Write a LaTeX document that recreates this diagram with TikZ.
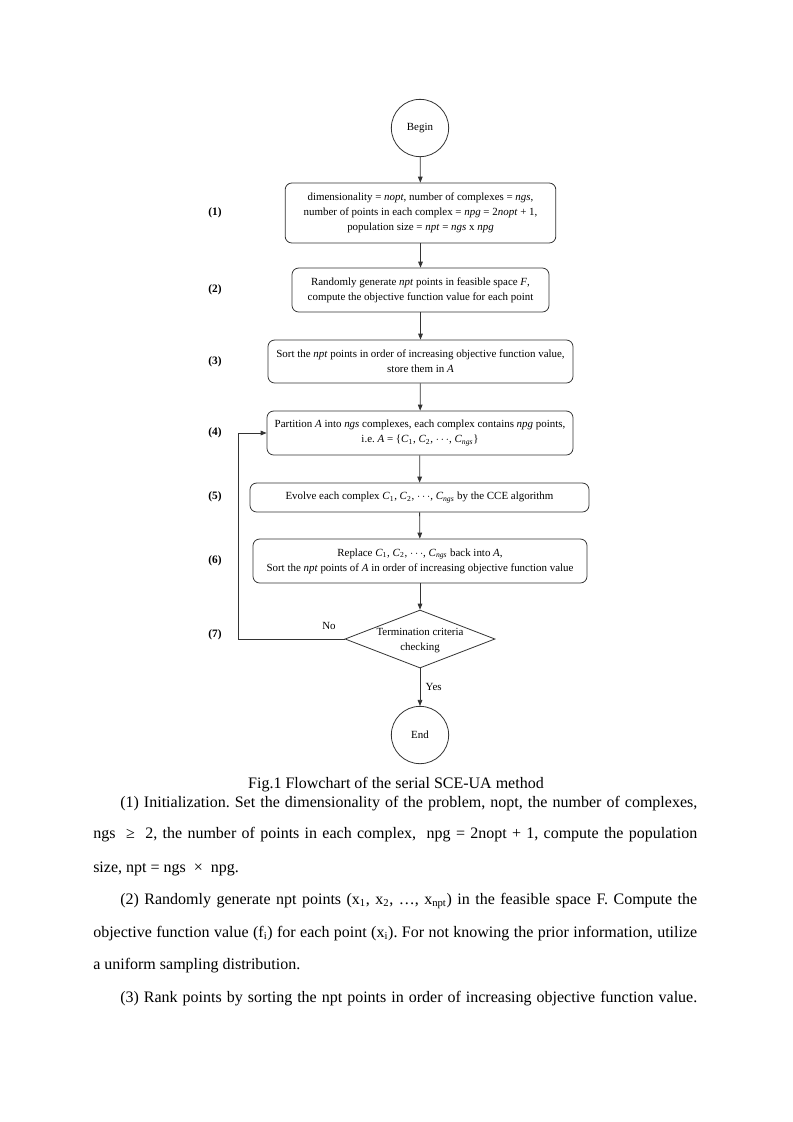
\documentclass[tikz,border=0pt]{standalone}
\usepackage{fontspec}
\setmainfont{Liberation Serif}
\frenchspacing
\usetikzlibrary{shapes.geometric,arrows.meta}
\tikzset{
  px/.style={x=0.75pt,y=-0.75pt},
  flowbox/.style={draw=black!80, rounded corners=5pt, align=center, inner sep=0pt,
     font=\fontsize{8.2pt}{11.25pt}\selectfont, line width=0.6pt},
  term/.style={draw=black!80, circle, minimum size=43pt, inner sep=0pt,
     font=\fontsize{8.2pt}{11.25pt}\selectfont, line width=0.6pt},
  decide/.style={draw=black!80, diamond, minimum width=112.5pt, minimum height=43.5pt,
     inner sep=0pt, line width=0.6pt},
  steplabel/.style={font=\fontsize{8.5pt}{11pt}\selectfont\bfseries},
  flowtext/.style={font=\fontsize{8.2pt}{11.25pt}\selectfont, align=center, inner sep=0pt},
  conn/.style={draw=black!80, line width=0.6pt, -{Triangle[length=4.5pt,width=3.5pt]}},
  bodyline/.style={anchor=base west, inner sep=0pt, font=\fontsize{12pt}{14pt}\selectfont},
}
\begin{document}
\begin{tikzpicture}[px]
\useasboundingbox (0,0) rectangle (793,1122);
\fill[white] (0,0) rectangle (793,1122);

% terminals
\node[term] (begin) at (420,128) {Begin};
\node[term] (end) at (420,735) {End};

% process boxes
\node[flowbox, minimum width=203pt, minimum height=45pt] (b1) at (420.5,213)
  {dimensionality = \textit{nopt}, number of complexes = \textit{ngs},\\
   number of points in each complex = \textit{npg} = 2\textit{nopt} + 1,\\
   population size = \textit{npt} = \textit{ngs} x \textit{npg}};
\node[flowbox, minimum width=192.75pt, minimum height=33pt] (b2) at (420.5,290)
  {Randomly generate \textit{npt} points in feasible space \textit{F},\\
   compute the objective function value for each point};
\node[flowbox, minimum width=228.75pt, minimum height=32.25pt] (b3) at (420.5,361.5)
  {Sort the \textit{npt} points in order of increasing objective function value,\\
   store them in \textit{A}};
\node[flowbox, minimum width=229.5pt, minimum height=33pt] (b4) at (420,433)
  {Partition \textit{A} into \textit{ngs} complexes, each complex contains \textit{npg} points,\\
   i.e. \textit{A} = \{\textit{C}\textsubscript{1}, \textit{C}\textsubscript{2}, $\cdots$, \textit{C}\textsubscript{\textit{ngs}}\}};
\node[flowbox, minimum width=254.25pt, minimum height=21.75pt] (b5) at (419.5,497.5)
  {Evolve each complex \textit{C}\textsubscript{1}, \textit{C}\textsubscript{2}, $\cdots$, \textit{C}\textsubscript{\textit{ngs}} by the CCE algorithm};
\node[flowbox, minimum width=250.5pt, minimum height=33pt] (b6) at (420,561)
  {Replace \textit{C}\textsubscript{1}, \textit{C}\textsubscript{2}, $\cdots$, \textit{C}\textsubscript{\textit{ngs}} back into \textit{A},\\
   Sort the \textit{npt} points of \textit{A} in order of increasing objective function value};

% decision
\node[decide] (dec) at (420,639) {};
\node[flowtext] (dectext) at (420,641) {Termination criteria\\checking};

% step labels
\node[steplabel] (l1) at (215,213) {(1)};
\node[steplabel] (l2) at (215,290) {(2)};
\node[steplabel] (l3) at (215,362) {(3)};
\node[steplabel] (l4) at (215,433) {(4)};
\node[steplabel] (l5) at (215,497) {(5)};
\node[steplabel] (l6) at (215,561) {(6)};
\node[steplabel] (l7) at (215,635) {(7)};

% connectors
\draw[conn] (begin) -- (b1);
\draw[conn] (b1) -- (b2);
\draw[conn] (b2) -- (b3);
\draw[conn] (b3) -- (b4);
\draw[conn] (b4) -- (b5);
\draw[conn] (b5) -- (b6);
\draw[conn] (b6) -- (dec);
\draw[conn] (dec.south) -- node[flowtext, right=4pt, pos=0.5] (yes) {Yes} (end.north);
\coordinate (loopcorner) at (238,639);
\draw[conn] (dec.west) -- (loopcorner) |- (b4.west);
\node[flowtext] (no) at (329,626) {No};

% caption
\node[anchor=base, inner sep=0pt, font=\fontsize{12pt}{14pt}\selectfont] (cap) at (396,788)
  {Fig.1 Flowchart of the serial SCE-UA method};

% body text
\node[bodyline] (t1) at (120,807) {\hbox to 432.75pt{(1) Initialization. Set the dimensionality of the problem, nopt, the number of complexes,}};
\node[bodyline] (t2) at (93,838) {\hbox to 453pt{ngs \ ≥ \ 2, the number of points in each complex, \ npg = 2nopt + 1, compute the population}};
\node[bodyline] (t3) at (93,872) {size, npt = ngs \ × \ npg.};
\node[bodyline] (t4) at (120,904) {\hbox to 432.75pt{(2) Randomly generate npt points (x\textsubscript{1}, x\textsubscript{2}, …, x\textsubscript{npt}) in the feasible space F. Compute the}};
\node[bodyline] (t5) at (93,937) {\hbox to 453pt{objective function value (f\textsubscript{i}) for each point (x\textsubscript{i}). For not knowing the prior information, utilize}};
\node[bodyline] (t6) at (93,969) {a uniform sampling distribution.};
\node[bodyline] (t7) at (120,1002) {\hbox to 432.75pt{(3) Rank points by sorting the npt points in order of increasing objective function value.}};
\end{tikzpicture}
\end{document}
